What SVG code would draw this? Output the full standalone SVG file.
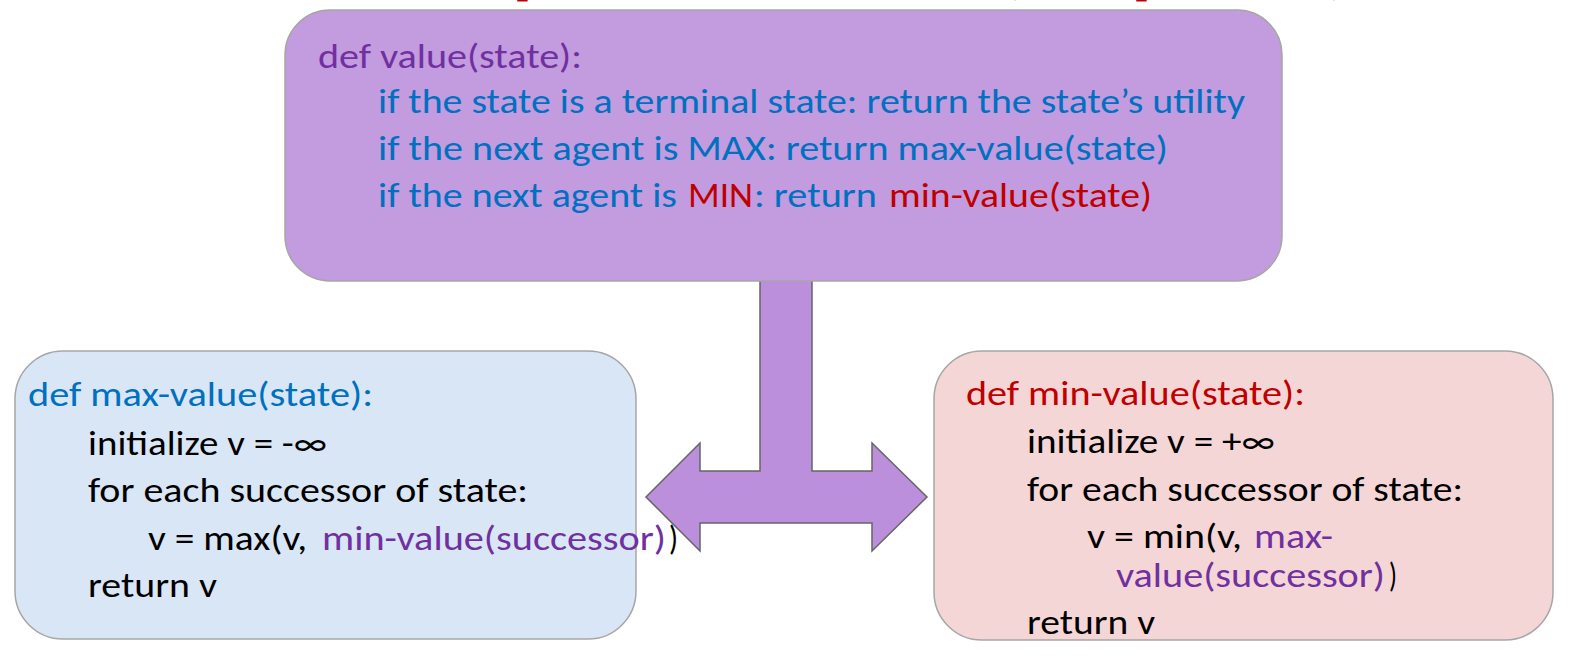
<svg xmlns="http://www.w3.org/2000/svg" width="1573" height="670" viewBox="0 0 1573 670">
<style>
  text { font-family: Carlito, Lato, "Liberation Sans", sans-serif; font-size: 34px; }
  .pu { fill: #7030A0; }
  .bl { fill: #0070C0; }
  .rd { fill: #C00000; }
  .bk { fill: #000000; }
  .title { font-weight: bold; font-size: 83px; fill: #C00000; }
  .box { stroke: #A6A6A6; stroke-width: 1.5; }
  .arrow { fill: #BC8FDC; stroke: #666666; stroke-width: 1.5; stroke-linejoin: miter; }
</style>
<rect width="1573" height="670" fill="#FFFFFF"/>
<g id="title">
  <text class="title" x="98" y="-12" textLength="1252" lengthAdjust="spacingAndGlyphs">Minimax Implementation (Dispatch)</text>
</g>
<g id="connectors">
  <polygon class="arrow" points="760,276 812,276 812,471 872,471 872,443 927,497 872,551 872,523 700,523 700,551 646,497 700,443 700,471 760,471"/>
</g>
<g id="node-value">
  <rect class="box" x="285" y="10" width="997" height="271" rx="45" ry="45" fill="#C39BDF"/>
  <text class="pu" x="318" y="68" textLength="264" lengthAdjust="spacingAndGlyphs">def value(state):</text>
  <text class="bl" x="378" y="113" textLength="867" lengthAdjust="spacingAndGlyphs">if the state is a terminal state: return the state’s utility</text>
  <text class="bl" x="378" y="160" textLength="790" lengthAdjust="spacingAndGlyphs">if the next agent is MAX: return max-value(state)</text>
  <text class="bl" x="378" y="207" textLength="299" lengthAdjust="spacingAndGlyphs">if the next agent is</text>
  <text class="rd" x="688" y="207" textLength="65" lengthAdjust="spacingAndGlyphs">MIN</text>
  <text class="bl" x="754" y="207" textLength="123" lengthAdjust="spacingAndGlyphs">: return</text>
  <text class="rd" x="889" y="207" textLength="263" lengthAdjust="spacingAndGlyphs">min-value(state)</text>
</g>
<g id="node-max-value">
  <rect class="box" x="15" y="351" width="621" height="288" rx="48" ry="48" fill="#D9E6F6"/>
  <text class="bl" x="28" y="406" textLength="345" lengthAdjust="spacingAndGlyphs">def max-value(state):</text>
  <text class="bk" x="88" y="455" textLength="239" lengthAdjust="spacingAndGlyphs">initialize v = -∞</text>
  <text class="bk" x="88" y="502" textLength="440" lengthAdjust="spacingAndGlyphs">for each successor of state:</text>
  <text class="bk" x="148" y="550" textLength="159" lengthAdjust="spacingAndGlyphs">v = max(v,</text>
  <text class="pu" x="322" y="550" textLength="344" lengthAdjust="spacingAndGlyphs">min-value(successor)</text>
  <text class="bk" x="669" y="550" textLength="9" lengthAdjust="spacingAndGlyphs">)</text>
  <text class="bk" x="88" y="597" textLength="129" lengthAdjust="spacingAndGlyphs">return v</text>
</g>
<g id="node-min-value">
  <rect class="box" x="934" y="351" width="619" height="289" rx="48" ry="48" fill="#F5D6D7"/>
  <text class="rd" x="966" y="405" textLength="339" lengthAdjust="spacingAndGlyphs">def min-value(state):</text>
  <text class="bk" x="1027" y="453" textLength="248" lengthAdjust="spacingAndGlyphs">initialize v = +∞</text>
  <text class="bk" x="1027" y="501" textLength="436" lengthAdjust="spacingAndGlyphs">for each successor of state:</text>
  <text class="bk" x="1087" y="548" textLength="155" lengthAdjust="spacingAndGlyphs">v = min(v,</text>
  <text class="pu" x="1254" y="548" textLength="79" lengthAdjust="spacingAndGlyphs">max-</text>
  <text class="pu" x="1116" y="587" textLength="269" lengthAdjust="spacingAndGlyphs">value(successor)</text>
  <text class="bk" x="1389" y="587" textLength="8" lengthAdjust="spacingAndGlyphs">)</text>
  <text class="bk" x="1027" y="634" textLength="128" lengthAdjust="spacingAndGlyphs">return v</text>
</g>
</svg>
